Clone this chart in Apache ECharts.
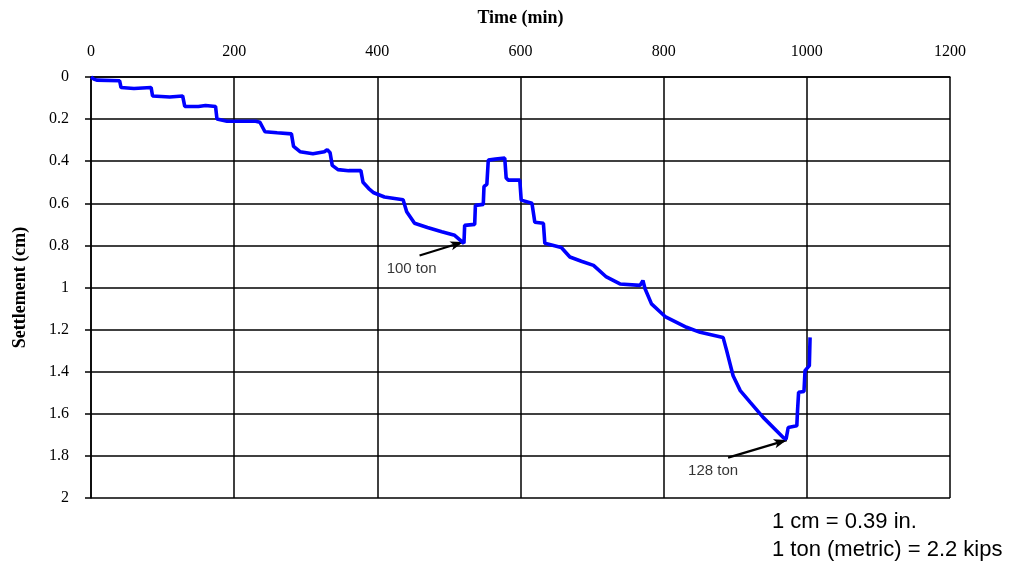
<!DOCTYPE html>
<html>
<head>
<meta charset="utf-8">
<script src="https://cdn.jsdelivr.net/npm/echarts@6/dist/echarts.min.js"></script>
<style>
html,body{margin:0;padding:0;background:#fff;}
#chart{width:1018px;height:567px;}
</style>
</head>
<body>
<div id="chart"></div>
<script>
// Time (min)
const time = [0,4,8,40,42,60,84,86,110,128,131,150,160,174,176,190,230,236,243,260,280,283,292,310,326,330,334,337,345,360,377,380,388,395,410,436,441,452,470,490,508,521,522,536,537,548,549,553,555,565,578,580,583,599,601,616,620,632,634,657,669,685,702,720,739,767,771,774,783,802,832,851,883,888,897,907,921,939,967,971,974,986,987,988.5,996,997.5,1003.5,1004.5];
// Settlement (cm)
const settlement = [0,0.01,0.015,0.018,0.05,0.055,0.05,0.09,0.095,0.09,0.14,0.14,0.135,0.14,0.2,0.21,0.21,0.215,0.26,0.265,0.27,0.33,0.355,0.365,0.355,0.345,0.36,0.42,0.44,0.445,0.445,0.5,0.53,0.55,0.57,0.583,0.64,0.695,0.715,0.735,0.752,0.79,0.705,0.70,0.61,0.605,0.52,0.51,0.395,0.39,0.385,0.48,0.49,0.49,0.585,0.6,0.69,0.695,0.79,0.81,0.855,0.875,0.895,0.95,0.983,0.99,0.967,1.006,1.078,1.138,1.189,1.213,1.237,1.3,1.419,1.49,1.546,1.617,1.713,1.72,1.665,1.657,1.586,1.498,1.494,1.395,1.371,1.237];

const xTicks = {min:0, max:1200, interval:200};
const yTicks = {min:0, max:2, interval:0.2};

// annotations
const annoLabels = ['100 ton','128 ton'];
const annoText = [[448,0.91],[869,1.87]];
const annoTail = [[459,0.848],[890,1.808]];
const annoHead = [[520,0.784],[972,1.725]];

const notes = ['1 cm = 0.39 in.','1 ton (metric) = 2.2 kips'];

const chart = echarts.init(document.getElementById('chart'));
const serif = 'Liberation Serif';
const sans = 'Liberation Sans';

chart.setOption({
  animation:false,
  backgroundColor:'#fff',
  grid:{left:91, top:77, right:68, bottom:69, containLabel:false, outerBoundsMode:'none'},
  xAxis:{
    type:'value', position:'top',
    min:xTicks.min, max:xTicks.max, interval:xTicks.interval,
    name:'Time (min)', nameLocation:'middle', nameGap:50,
    nameTextStyle:{fontFamily:serif, fontWeight:'bold', fontSize:18, color:'#000'},
    axisLine:{show:true, lineStyle:{color:'#000', width:1.5}},
    axisTick:{show:false},
    axisLabel:{fontFamily:serif, fontSize:16, color:'#000', margin:17, formatter:v=>String(v)},
    splitLine:{show:true, lineStyle:{color:'#000', width:1.5}}
  },
  yAxis:{
    type:'value', inverse:true,
    min:yTicks.min, max:yTicks.max, interval:yTicks.interval,
    name:'Settlement (cm)', nameLocation:'middle', nameGap:62, nameRotate:90,
    nameTextStyle:{fontFamily:serif, fontWeight:'bold', fontSize:18, color:'#000'},
    axisLine:{show:true, lineStyle:{color:'#000', width:1.5}},
    axisTick:{show:true, length:6, inside:false, lineStyle:{color:'#000', width:1.5}},
    axisLabel:{fontFamily:serif, fontSize:16, color:'#000', margin:22},
    splitLine:{show:true, lineStyle:{color:'#000', width:1.5}}
  },
  series:[
    {
      type:'line',
      data:time.map((t,i)=>[t,settlement[i]]),
      showSymbol:false,
      lineStyle:{color:'#0000ff', width:3.6},
      z:5,
      markLine:{
        silent:true,
        symbol:['none','arrow'],
        symbolSize:[7,13],
        lineStyle:{color:'#000', width:2.2, type:'solid'},
        label:{show:false},
        data:annoTail.map((p,i)=>[{coord:p},{coord:annoHead[i]}])
      }
    },
    {
      type:'scatter',
      symbolSize:0,
      data:annoText.map((p,i)=>({value:p, name:annoLabels[i]})),
      label:{show:true, position:'inside', formatter:p=>p.name, fontFamily:sans, fontSize:15, color:'#000'},
      z:6
    }
  ],
  graphic:[
    {type:'text', left:772, top:511, style:{text:notes[0], font:'22px Liberation Sans', fill:'#000'}},
    {type:'text', left:772, top:539, style:{text:notes[1], font:'22px Liberation Sans', fill:'#000'}}
  ]
});
</script>
</body>
</html>
